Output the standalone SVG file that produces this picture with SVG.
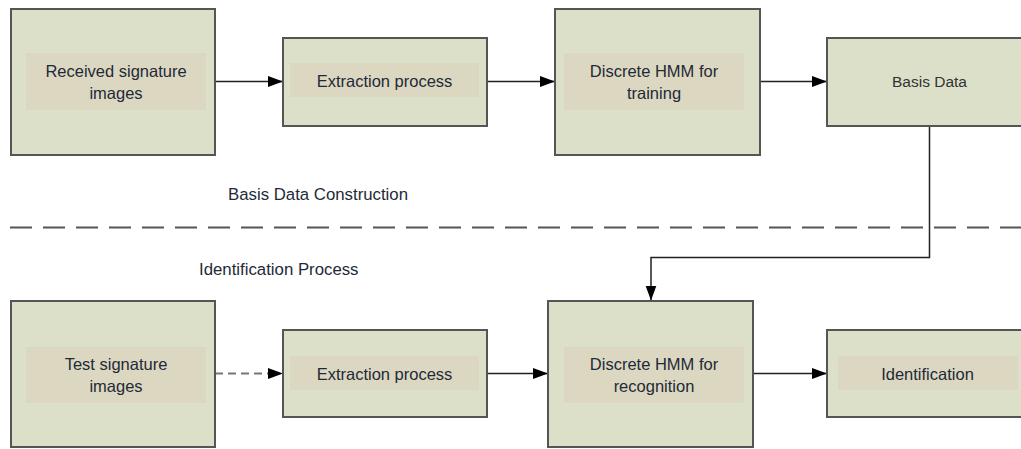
<svg xmlns="http://www.w3.org/2000/svg" width="1021" height="449" viewBox="0 0 1021 449">
<style>
.box{fill:#dce0c9;stroke:#555;stroke-width:2}
.inner{fill:#dcd7c1;stroke:none}
.t{font-family:"Liberation Sans",Arial,sans-serif;font-size:16.5px;fill:#1e2a38;text-anchor:middle}
.t2{font-family:"Liberation Sans",Arial,sans-serif;font-size:15.5px;fill:#333;text-anchor:middle}
.lbl{font-family:"Liberation Sans",Arial,sans-serif;font-size:16.8px;fill:#1e2a38}
.c{fill:none;stroke:#222;stroke-width:1.5}
.cd{fill:none;stroke:#777;stroke-width:2;stroke-dasharray:8 5}
.div{fill:none;stroke:#555;stroke-width:2;stroke-dasharray:22 11}
</style>
<defs>
<marker id="ah" markerUnits="userSpaceOnUse" markerWidth="16" markerHeight="12" refX="15" refY="5.5" orient="auto">
<path d="M0,0 L15,5.5 L0,11 z" fill="#000"/>
</marker>
</defs>
<rect width="1021" height="449" fill="#fff"/>
<g id="divider">
<line class="div" x1="10" y1="227.5" x2="1021" y2="227.5"/>
<text class="lbl" x="228" y="200">Basis Data Construction</text>
<text class="lbl" x="199" y="275">Identification Process</text>
</g>
<g id="connectors">
<line class="c" x1="215" y1="81.5" x2="283" y2="81.5" marker-end="url(#ah)"/>
<line class="c" x1="487" y1="81.5" x2="555" y2="81.5" marker-end="url(#ah)"/>
<line class="c" x1="760" y1="81.5" x2="827" y2="81.5" marker-end="url(#ah)"/>
<path class="c" d="M929.5,126 V257.5 H651 V300.5" marker-end="url(#ah)"/>
<line class="cd" x1="215" y1="373.5" x2="270" y2="373.5"/>
<path d="M268,368 L283,373.5 L268,379 z" fill="#000"/>
<line class="c" x1="487" y1="373.5" x2="548" y2="373.5" marker-end="url(#ah)"/>
<line class="c" x1="753" y1="373.5" x2="827" y2="373.5" marker-end="url(#ah)"/>
</g>
<g id="received">
<rect class="box" x="11" y="9" width="204" height="146"/>
<rect class="inner" x="26" y="53" width="180" height="57"/>
<text class="t" x="116" y="77">Received signature</text>
<text class="t" x="116" y="99">images</text>
</g>
<g id="extraction1">
<rect class="box" x="283" y="38" width="204" height="88"/>
<rect class="inner" x="290" y="63" width="189" height="34"/>
<text class="t" x="384.5" y="87">Extraction process</text>
</g>
<g id="hmm-training">
<rect class="box" x="555" y="9" width="205" height="146"/>
<rect class="inner" x="564" y="53" width="180" height="57"/>
<text class="t" x="654" y="77">Discrete HMM for</text>
<text class="t" x="654" y="99">training</text>
</g>
<g id="basis-data">
<rect class="box" x="827" y="38" width="200" height="88"/>
<text class="t2" x="929.5" y="87">Basis Data</text>
</g>
<g id="test">
<rect class="box" x="11" y="301" width="204" height="146"/>
<rect class="inner" x="26" y="347" width="180" height="56"/>
<text class="t" x="116" y="370">Test signature</text>
<text class="t" x="116" y="392">images</text>
</g>
<g id="extraction2">
<rect class="box" x="283" y="330" width="204" height="87"/>
<rect class="inner" x="290" y="356" width="189" height="34"/>
<text class="t" x="384.5" y="380">Extraction process</text>
</g>
<g id="hmm-recognition">
<rect class="box" x="548" y="301" width="205" height="146"/>
<rect class="inner" x="564" y="347" width="180" height="56"/>
<text class="t" x="654" y="370">Discrete HMM for</text>
<text class="t" x="654" y="392">recognition</text>
</g>
<g id="identification">
<rect class="box" x="827" y="330" width="200" height="87"/>
<rect class="inner" x="838" y="356" width="180" height="34"/>
<text class="t" x="927.5" y="380">Identification</text>
</g>
</svg>
